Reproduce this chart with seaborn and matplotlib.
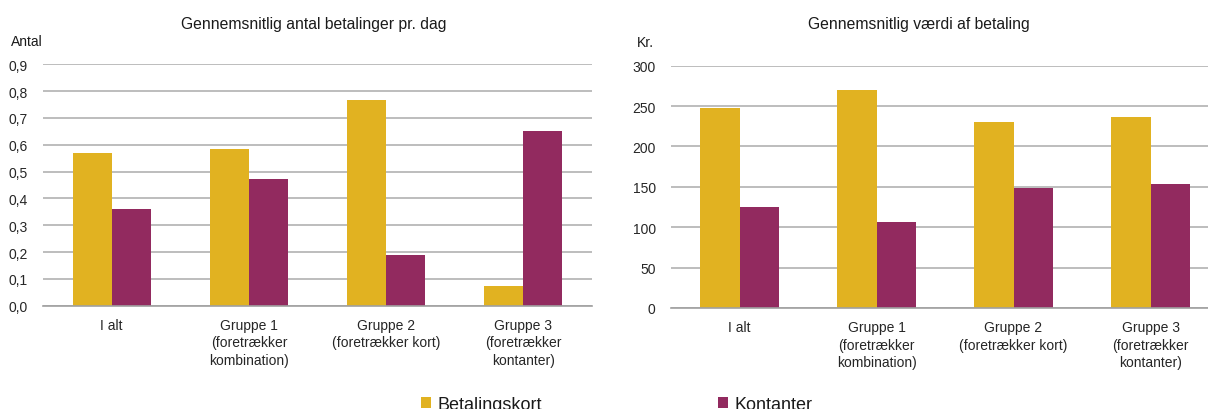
import matplotlib
matplotlib.use("Agg")
import matplotlib.pyplot as plt
from matplotlib.patches import Patch
from matplotlib.ticker import FuncFormatter, FixedLocator
import seaborn as sns
import pandas as pd

# Data
categories = [
    "I alt",
    "Gruppe 1\n(foretrækker\nkombination)",
    "Gruppe 2\n(foretrækker kort)",
    "Gruppe 3\n(foretrækker\nkontanter)",
]
series_names = ["Betalingskort", "Kontanter"]
antal_kort = [0.568, 0.583, 0.766, 0.073]
antal_kontanter = [0.361, 0.473, 0.190, 0.650]
vaerdi_kort = [248, 270, 230, 236]
vaerdi_kontanter = [125, 106, 149, 154]

left_title = "Gennemsnitlig antal betalinger pr. dag"
right_title = "Gennemsnitlig værdi af betaling"
left_unit = "Antal"
right_unit = "Kr."

YELLOW = "#E1B221"
PURPLE = "#922A5F"
GRID = "#B8B8B8"
AXIS = "#A0A0A0"

sns.set_theme(style="white")
plt.rcParams["font.family"] = ["Liberation Sans", "DejaVu Sans"]
plt.rcParams["text.color"] = "#1a1a1a"


def long_frame(kort, kontanter):
    return pd.DataFrame({
        "kategori": categories * 2,
        "type": [series_names[0]] * len(categories) + [series_names[1]] * len(categories),
        "vaerdi": list(kort) + list(kontanter),
    })


fig = plt.figure(figsize=(12.08, 4.10), dpi=100)
ax1 = fig.add_axes([43 / 1208, 1 - 306.7 / 410, (592 - 43) / 1208, (306.7 - 65.3) / 410])
ax2 = fig.add_axes([671 / 1208, 1 - 309 / 410, (1219 - 671) / 1208, (309 - 66.7) / 410])

panels = [
    (ax1, long_frame(antal_kort, antal_kontanter), (0, 0.9), [i / 10 for i in range(10)],
     lambda v, p: f"{v:.1f}".replace(".", ",")),
    (ax2, long_frame(vaerdi_kort, vaerdi_kontanter), (0, 300), list(range(0, 301, 50)),
     lambda v, p: f"{int(round(v))}"),
]

for ax, df, ylim, yticks, fmt in panels:
    sns.barplot(data=df, x="kategori", y="vaerdi", hue="type",
                palette=[YELLOW, PURPLE], width=0.57, gap=0,
                saturation=1, linewidth=0, legend=False, ax=ax, zorder=3)
    ax.set_xlim(-0.5, len(categories) - 0.5)
    ax.set_ylim(*ylim)
    ax.set_yticks(yticks)
    ax.yaxis.set_major_formatter(FuncFormatter(fmt))
    ax.set_xlabel("")
    ax.set_ylabel("")
    ax.grid(axis="y", color=GRID, linewidth=1.3, zorder=0)
    ax.set_axisbelow(True)
    for side in ["left", "right", "top"]:
        ax.spines[side].set_visible(False)
    ax.spines["bottom"].set_color(AXIS)
    ax.spines["bottom"].set_linewidth(1.2)
    ax.spines["bottom"].set_zorder(4)
    ax.tick_params(axis="y", length=0, pad=11, labelsize=10)
    ax.tick_params(axis="x", which="major", length=0, pad=9, labelsize=10)
    ax.xaxis.set_minor_locator(FixedLocator([i - 0.5 for i in range(len(categories) + 1)]))
    ax.tick_params(axis="x", which="minor", direction="in", length=4, width=1, color=AXIS)
    for lab in ax.get_xticklabels():
        lab.set_linespacing(1.3)
        lab.set_horizontalalignment("center")

fig.text(314 / 1208, 1 - 24 / 410, left_title, ha="center", va="center", fontsize=11.3)
fig.text(919 / 1208, 1 - 24 / 410, right_title, ha="center", va="center", fontsize=11.3)
fig.text(11 / 1208, 1 - 42 / 410, left_unit, ha="left", va="center", fontsize=10)
fig.text(637 / 1208, 1 - 43 / 410, right_unit, ha="left", va="center", fontsize=10)

handles = [Patch(facecolor=YELLOW, edgecolor="none"), Patch(facecolor=PURPLE, edgecolor="none")]
fig.legend(handles, series_names, loc="upper left", ncol=2,
           bbox_to_anchor=(421 / 1208, 1 - 397 / 410), frameon=False,
           fontsize=13, handlelength=0.55, handleheight=0.55,
           handletextpad=0.35, columnspacing=9.75, borderaxespad=0, borderpad=0)

fig.savefig("out.png", dpi=100)
